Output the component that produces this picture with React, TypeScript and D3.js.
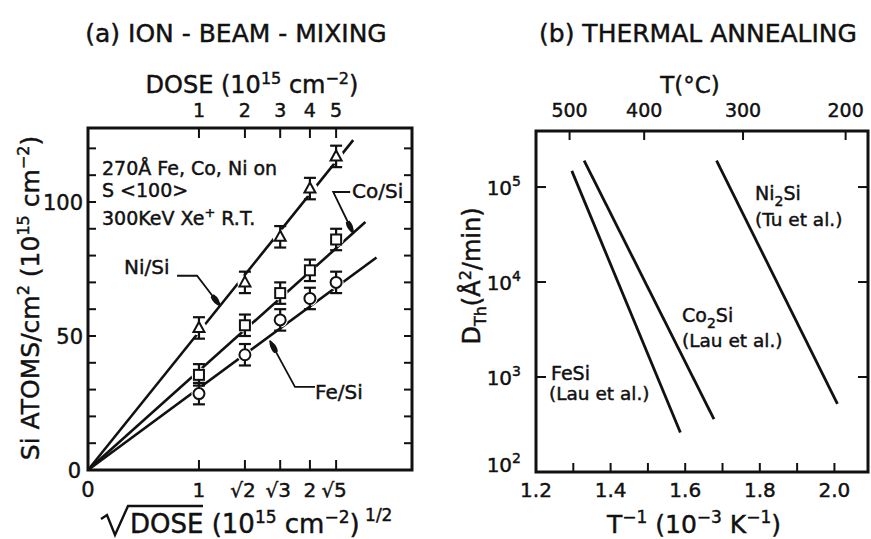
import React from "react";
import * as d3 from "d3";

// ---------- (a) ion-beam mixing data ----------
const doseTicks = [1, 2, 3, 4, 5]; // 10^15 cm^-2
const sqrtDoseLabels = ["1", "√2", "√3", "2", "√5"];
const niSi = [53, 70, 87, 105, 117];
const coSi = [35.5, 54, 66, 74.5, 86];
const feSi = [28.5, 43, 56, 64, 70];
const errHalf = [4, 4, 4, 4, 4];
// straight-line fits through the origin: slope and extent in sqrt(dose)
const fitSlopes = [51.5, 37, 30.5]; // Ni, Co, Fe
const fitEnds = [2.39, 2.5, 2.6];
const yTicksA = [0, 10, 20, 30, 40, 50, 60, 70, 80, 90, 100, 110, 120];
const yLabelsA = [0, 50, 100];

// ---------- (b) thermal annealing data ----------
const seriesB = ["FeSi", "Co2Si", "Ni2Si"];
const invTStart = [1.296, 1.329, 1.684];
const dStart = [1.48e5, 1.9e5, 1.9e5];
const invTEnd = [1.587, 1.677, 2.008];
const dEnd = [260, 360, 520];
const xTicksB = [1.2, 1.3, 1.4, 1.5, 1.6, 1.7, 1.8, 1.9, 2.0];
const xLabelsB = [1.2, 1.4, 1.6, 1.8, 2.0];
const tempLabels = ["500", "400", "300", "200"];
const tempTickInvT = [1.29, 1.49, 1.755, 2.03];
const yDecadesB = [100, 1000, 10000, 100000];

const FONT = "'DejaVu Sans', sans-serif";
const INK = "#111";

export default function App() {
  // panel (a) scales
  const xA = d3.scaleLinear().domain([0, 2.92]).range([88, 412]);
  const yA = d3.scaleLinear().domain([0, 127.6]).range([470, 128]);
  // panel (b) scales
  const xB = d3.scaleLinear().domain([1.2, 2.09]).range([536, 868]);
  const yB = d3.scaleLog().domain([100, Math.pow(10, 5.59)]).range([472, 131]);

  const sx = doseTicks.map((d) => Math.sqrt(d));
  const series = [
    { name: "Ni/Si", vals: niSi, shape: "tri" },
    { name: "Co/Si", vals: coSi, shape: "sq" },
    { name: "Fe/Si", vals: feSi, shape: "circ" },
  ];
  const line = d3
    .line<[number, number]>()
    .x((d) => xA(d[0]))
    .y((d) => yA(d[1]));

  const marker = (shape: string, cx: number, cy: number, key: string) => {
    if (shape === "tri")
      return (
        <path
          key={key}
          d={`M${cx},${cy - 6} L${cx + 5.5},${cy + 4} L${cx - 5.5},${cy + 4} Z`}
          fill="white"
          stroke={INK}
          strokeWidth={2}
        />
      );
    if (shape === "sq")
      return (
        <rect key={key} x={cx - 5} y={cy - 5} width={10} height={10} fill="white" stroke={INK} strokeWidth={2} />
      );
    return <circle key={key} cx={cx} cy={cy} r={5.5} fill="white" stroke={INK} strokeWidth={2} />;
  };

  // leader annotations: tip on a fit line, elbow offsets in px
  const leader = (si: number, tipX: number, pts: [number, number][], dyTip = 0) => {
    const tx = xA(tipX);
    const ty = yA(fitSlopes[si] * tipX) + dyTip;
    const p = pts.map(([dx, dy]) => [tx + dx, ty + dy]);
    p.push([tx, ty]);
    return d3.line()(p as [number, number][]) as string;
  };

  return (
    <svg
      width={871}
      height={539}
      style={{ position: "absolute", left: 0, top: 0, background: "white" }}
      fontFamily={FONT}
      fill={INK}
    >
      <style>{`text { stroke: ${INK}; stroke-width: 0.45px; }`}</style>
      <defs>
        <marker id="arr" viewBox="0 0 14 9" refX={13} refY={4.5} markerWidth={14} markerHeight={9} markerUnits="userSpaceOnUse" orient="auto">
          <path d="M0,2.5 Q7,0 14,4.5 Q7,9 0,6.5 Z" fill={INK} />
        </marker>
      </defs>

      {/* ================= (a) ================= */}
      <text x={236} y={42} fontSize={25} textAnchor="middle">
        (a) ION - BEAM - MIXING
      </text>
      <text x={252} y={93} fontSize={24} textAnchor="middle">
        DOSE (10
        <tspan dy={-9} fontSize={16}>15</tspan>
        <tspan dy={9}> cm</tspan>
        <tspan dy={-9} fontSize={16}>−2</tspan>
        <tspan dy={9}>)</tspan>
      </text>
      {doseTicks.map((d, i) => (
        <text key={"dt" + i} x={xA(sx[i])} y={117} fontSize={19} textAnchor="middle">
          {d}
        </text>
      ))}

      {/* fit lines */}
      {fitSlopes.map((s, i) => (
        <path
          key={"fit" + i}
          d={line([
            [0, 0],
            [fitEnds[i], s * fitEnds[i]],
          ]) as string}
          fill="none"
          stroke={INK}
          strokeWidth={2.6}
        />
      ))}
      {/* gaps where points sit on the lines */}
      {series.map((s) =>
        s.vals.map((v, i) => (
          <circle key={"h" + s.name + i} cx={xA(sx[i])} cy={yA(v)} r={7.5} fill="white" />
        ))
      )}
      {/* error bars + points */}
      {series.map((s) =>
        s.vals.map((v, i) => {
          const cx = xA(sx[i]);
          const y1 = yA(v - errHalf[i]);
          const y2 = yA(v + errHalf[i]);
          return (
            <g key={"e" + s.name + i} stroke={INK} strokeWidth={2.2}>
              <line x1={cx} x2={cx} y1={y1} y2={y2} />
              <line x1={cx - 6} x2={cx + 6} y1={y1} y2={y1} />
              <line x1={cx - 6} x2={cx + 6} y1={y2} y2={y2} />
            </g>
          );
        })
      )}
      {series.map((s) => s.vals.map((v, i) => marker(s.shape, xA(sx[i]), yA(v), "m" + s.name + i)))}

      {/* frame (a) */}
      <rect x={88} y={128} width={324} height={342} fill="none" stroke={INK} strokeWidth={3} />
      {yTicksA.map((t) => (
        <g key={"yt" + t} stroke={INK} strokeWidth={2}>
          <line x1={88} x2={96} y1={yA(t)} y2={yA(t)} />
          <line x1={412} x2={404} y1={yA(t)} y2={yA(t)} />
        </g>
      ))}
      {sx.map((v, i) => (
        <g key={"xt" + i} stroke={INK} strokeWidth={2}>
          <line x1={xA(v)} x2={xA(v)} y1={470} y2={460} />
          <line x1={xA(v)} x2={xA(v)} y1={128} y2={138} />
        </g>
      ))}
      {yLabelsA.map((t) => (
        <text key={"yl" + t} x={t === 0 ? 81 : 83} y={yA(t) + 8} fontSize={21} textAnchor="end">
          {t}
        </text>
      ))}
      <text x={xA(0)} y={497} fontSize={21} textAnchor="middle">
        0
      </text>
      {sqrtDoseLabels.map((l, i) => (
        <text key={"xl" + i} x={xA(sx[i]) - (l.length > 1 ? 2 : 0)} y={497} fontSize={20} textAnchor="middle">
          {l}
        </text>
      ))}

      {/* x-axis title with radical */}
      <path d="M101,519 L107,515 L115,535 L128,506 L203,506" fill="none" stroke={INK} strokeWidth={2.4} />
      <text x={130} y={533} fontSize={26}>
        DOSE (10
        <tspan dy={-10} fontSize={17}>15</tspan>
        <tspan dy={10}> cm</tspan>
        <tspan dy={-10} fontSize={17}>−2</tspan>
        <tspan dy={10}>)</tspan>
        <tspan dy={-12} fontSize={17}> 1/2</tspan>
      </text>

      {/* y-axis title */}
      <text transform="translate(39,298) rotate(-90)" fontSize={25} textAnchor="middle">
        Si ATOMS/cm
        <tspan dy={-10} fontSize={16}>2</tspan>
        <tspan dy={10}> (10</tspan>
        <tspan dy={-10} fontSize={16}>15</tspan>
        <tspan dy={10}> cm</tspan>
        <tspan dy={-10} fontSize={16}>−2</tspan>
        <tspan dy={10}>)</tspan>
      </text>

      {/* conditions */}
      <text x={102} y={175} fontSize={19}>270Å Fe, Co, Ni on</text>
      <text x={102} y={197} fontSize={19}>S &lt;100&gt;</text>
      <text x={102} y={225} fontSize={19}>
        300KeV{"  "}Xe<tspan dy={-8} fontSize={13}>+</tspan>
        <tspan dy={8}> R.T.</tspan>
      </text>

      {/* series labels with leaders */}
      <text x={124} y={274} fontSize={20}>Ni/Si</text>
      <path d={leader(0, 1.19, [[-43, -30], [-23, -30]])} fill="none" stroke={INK} strokeWidth={1.8} markerEnd="url(#arr)" />
      <text x={352} y={198} fontSize={20}>Co/Si</text>
      <path d={leader(1, 2.39, [[-3, -41], [-20, -41]])} fill="none" stroke={INK} strokeWidth={1.8} markerEnd="url(#arr)" />
      <text x={315} y={399} fontSize={20}>Fe/Si</text>
      <path d={leader(2, 1.64, [[45, 46], [25, 46]], 5)} fill="none" stroke={INK} strokeWidth={1.8} markerEnd="url(#arr)" />

      {/* ================= (b) ================= */}
      <text x={698} y={42} fontSize={25} textAnchor="middle">
        (b) THERMAL ANNEALING
      </text>
      <text x={690} y={93} fontSize={23} textAnchor="middle">
        T(°C)
      </text>
      {tempLabels.map((l, i) => (
        <text key={"tl" + i} x={xB(tempTickInvT[i])} y={117} fontSize={19} textAnchor="middle">
          {l}
        </text>
      ))}

      {seriesB.map((s, i) => (
        <line
          key={"lb" + s}
          x1={xB(invTStart[i])}
          y1={yB(dStart[i])}
          x2={xB(invTEnd[i])}
          y2={yB(dEnd[i])}
          stroke={INK}
          strokeWidth={2.8}
        />
      ))}

      <rect x={536} y={131} width={332} height={341} fill="none" stroke={INK} strokeWidth={3} />
      {xTicksB.map((t) => (
        <line key={"xb" + t} x1={xB(t)} x2={xB(t)} y1={472} y2={463} stroke={INK} strokeWidth={2} />
      ))}
      {tempTickInvT.map((t, i) => (
        <line key={"tb" + i} x1={xB(t)} x2={xB(t)} y1={131} y2={140} stroke={INK} strokeWidth={2} />
      ))}
      {yDecadesB.map((d) => (
        <g key={"yd" + d} stroke={INK} strokeWidth={2}>
          <line x1={536} x2={546} y1={yB(d)} y2={yB(d)} />
          <line x1={868} x2={858} y1={yB(d)} y2={yB(d)} />
        </g>
      ))}
      {yDecadesB.map((d) => (
        <text key={"ydl" + d} x={521} y={yB(d) + (d === 100 ? 0 : 8)} fontSize={20} textAnchor="end">
          10
          <tspan dy={-9} fontSize={14}>
            {Math.round(Math.log10(d))}
          </tspan>
        </text>
      ))}
      {xLabelsB.map((t) => (
        <text key={"xbl" + t} x={xB(t)} y={497} fontSize={20} textAnchor="middle">
          {t.toFixed(1)}
        </text>
      ))}
      <text x={694} y={533} fontSize={25} textAnchor="middle">
        T
        <tspan dy={-10} fontSize={17}>−1</tspan>
        <tspan dy={10}> (10</tspan>
        <tspan dy={-10} fontSize={17}>−3</tspan>
        <tspan dy={10}> K</tspan>
        <tspan dy={-10} fontSize={17}>−1</tspan>
        <tspan dy={10}>)</tspan>
      </text>
      <text transform="translate(480,276) rotate(-90)" fontSize={24} textAnchor="middle">
        D<tspan dy={6} fontSize={16}>Th</tspan>
        <tspan dy={-6}>(Å</tspan>
        <tspan dy={-9} fontSize={16}>2</tspan>
        <tspan dy={9}>/min)</tspan>
      </text>

      <text x={755} y={200} fontSize={19}>
        Ni<tspan dy={6} fontSize={14}>2</tspan>
        <tspan dy={-6}>Si</tspan>
      </text>
      <text x={755} y={226} fontSize={18.5}>(Tu et al.)</text>
      <text x={682} y={322} fontSize={19}>
        Co<tspan dy={6} fontSize={14}>2</tspan>
        <tspan dy={-6}>Si</tspan>
      </text>
      <text x={682} y={347} fontSize={18.5}>(Lau et al.)</text>
      <text x={551} y={380} fontSize={19}>FeSi</text>
      <text x={549} y={400} fontSize={18.5}>(Lau et al.)</text>
    </svg>
  );
}
